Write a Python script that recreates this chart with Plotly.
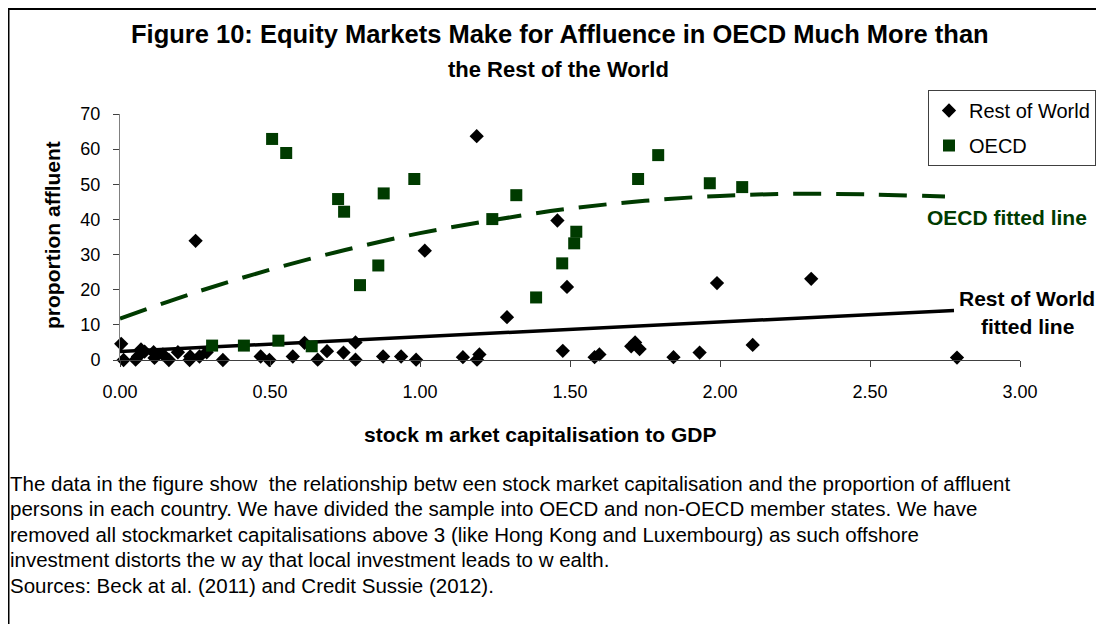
import plotly.graph_objects as go

# stock market cap / GDP vs proportion affluent
row_x = [0.004, 0.012, 0.052, 0.06, 0.07, 0.082, 0.112, 0.115, 0.143, 0.163,
         0.193, 0.232, 0.234, 0.252, 0.265, 0.289, 0.343, 0.469, 0.498, 0.576,
         0.615, 0.659, 0.69, 0.745, 0.785, 0.785, 0.877, 0.937, 0.987, 1.016,
         1.143, 1.189, 1.19, 1.198, 1.29, 1.458, 1.476, 1.49, 1.582, 1.598,
         1.704, 1.717, 1.732, 1.845, 1.932, 1.99, 2.109, 2.304, 2.79]
row_y = [4.6, 0.0, 0.1, 1.0, 3.0, 2.4, 2.2, 0.6, 1.6, 0.0,
         2.2, 0.0, 1.0, 33.9, 1.0, 2.2, 0.0, 1.0, 0.0, 1.0,
         4.9, 0.1, 2.5, 2.1, 5.0, 0.1, 1.0, 1.0, 0.1, 31.1,
         0.8, 63.7, 0.1, 1.6, 12.2, 39.7, 2.6, 20.8, 0.8, 1.6,
         3.9, 5.0, 3.1, 0.8, 2.1, 21.9, 4.3, 23.1, 0.7]

oecd_x = [0.307, 0.413, 0.507, 0.528, 0.554, 0.639, 0.727, 0.747, 0.80, 0.861,
          0.879, 0.981, 1.241, 1.321, 1.387, 1.474, 1.514, 1.521, 1.727, 1.794,
          1.966, 2.074]
oecd_y = [4.1, 4.1, 62.9, 5.5, 58.9, 3.9, 45.8, 42.2, 21.3, 26.9,
          47.4, 51.5, 40.1, 46.9, 17.8, 27.5, 33.2, 36.5, 51.5, 58.3,
          50.3, 49.2]

# fitted lines as drawn in the figure
oecd_fit_x = [0, 0.25, 0.5, 0.75, 1.0, 1.25, 1.5, 1.75, 2.0, 2.25, 2.5, 2.75]
oecd_fit_y = [11.8, 19.2, 25.7, 31.3, 36.1, 39.9, 43.1, 45.3, 46.7, 47.3, 47.1, 46.5]
row_fit_x = [0, 2.78]
row_fit_y = [2.4, 14.1]

caption = [
    "The data in the figure show  the relationship betw een stock market capitalisation and the proportion of affluent",
    "persons in each country. We have divided the sample into OECD and non-OECD member states. We have",
    "removed all stockmarket capitalisations above 3 (like Hong Kong and Luxembourg) as such offshore",
    "investment distorts the w ay that local investment leads to w ealth.",
    "Sources: Beck at al. (2011) and Credit Sussie (2012).",
]

FONT = "Liberation Sans, Arial, sans-serif"
GREEN = "#003b00"

# page has an 8px body margin, so positions below are given in page pixels
OFF = 8
FW, FH = 1096, 616
L, T, W, H = 120 - OFF, 114 - OFF, 900, 246


def px(x):
    return (x - OFF - L) / W


def py(y):
    return (T + H - (y - OFF)) / H


fig = go.Figure()
fig.add_trace(go.Scatter(x=oecd_fit_x, y=oecd_fit_y, mode="lines", line_shape="spline",
                         line=dict(color=GREEN, width=4, dash="28px,15px"),
                         showlegend=False, hoverinfo="skip"))
fig.add_trace(go.Scatter(x=row_fit_x, y=row_fit_y, mode="lines",
                         line=dict(color="black", width=3.5),
                         showlegend=False, hoverinfo="skip"))
fig.add_trace(go.Scatter(x=row_x, y=row_y, mode="markers", name="Rest of World",
                         legendgroup="row",
                         marker=dict(symbol="diamond", size=11, color="black"),
                         cliponaxis=False))
fig.add_trace(go.Scatter(x=oecd_x, y=oecd_y, mode="markers", name="OECD",
                         legendgroup="oecd",
                         marker=dict(symbol="square", size=12, color=GREEN),
                         cliponaxis=False))

ann = [
    dict(x=px(560), y=py(34), text="<b>Figure 10: Equity Markets Make for Affluence in OECD Much More than</b>",
         font=dict(size=25.5)),
    dict(x=px(558), y=py(69), text="<b>the Rest of the World</b>", font=dict(size=22)),
    dict(x=px(52), y=py(235), text="<b>proportion affluent</b>", textangle=-90, font=dict(size=21)),
    dict(x=px(540), y=py(434), text="<b>stock m arket capitalisation to GDP</b>", font=dict(size=21)),
    dict(x=px(1007), y=py(217), text="<b>OECD fitted line</b>", font=dict(size=21, color=GREEN)),
    dict(x=px(1027), y=py(298), text="<b>Rest of World</b>", font=dict(size=21)),
    dict(x=px(1027), y=py(326), text="<b>fitted line</b>", font=dict(size=21)),
]
for i, line in enumerate(caption):
    ann.append(dict(x=px(8), y=py(483 + 25.5 * i), text=line, xanchor="left",
                    font=dict(size=20.5)))
for a in ann:
    a.update(xref="paper", yref="paper", showarrow=False)
    a.setdefault("xanchor", "center")
    a["yanchor"] = "middle"

fig.update_layout(
    width=FW, height=FH,
    margin=dict(l=L, r=FW - L - W, t=T, b=FH - T - H, autoexpand=False),
    paper_bgcolor="white", plot_bgcolor="white",
    font=dict(family=FONT, size=18, color="black"),
    annotations=ann,
    legend=dict(x=px(928), y=py(90), xanchor="left", yanchor="top",
                bordercolor="#404040", borderwidth=1, bgcolor="white",
                font=dict(size=20), itemsizing="trace", tracegroupgap=6,
                itemwidth=30),
    shapes=[dict(type="rect", xref="paper", yref="paper",
                 x0=px(8.5), y0=py(700), x1=px(1200), y1=py(9),
                 line=dict(color="black", width=2))],
    showlegend=True,
)
fig.update_xaxes(range=[0, 3], dtick=0.5, tickformat=".2f", showgrid=False, zeroline=False,
                 showline=True, linecolor="#404040", linewidth=1,
                 ticks="outside", ticklen=6, tickcolor="#404040", ticklabelstandoff=9,
                 fixedrange=True)
fig.update_yaxes(range=[0, 70], dtick=10, showgrid=False, zeroline=False,
                 showline=True, linecolor="#808080", linewidth=1,
                 ticks="outside", ticklen=6, tickcolor="#404040", ticklabelstandoff=9,
                 fixedrange=True)

fig.write_html("out.html")
